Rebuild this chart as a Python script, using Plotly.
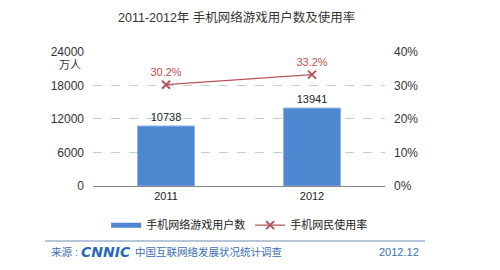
import plotly.graph_objects as go

years = ["2011", "2012"]
users = [10738, 13941]
rate = [0.302, 0.332]
rate_labels = ["30.2%", "33.2%"]
left_ticks = [0, 6000, 12000, 18000, 24000]
left_tick_text = ["0", "6000", "12000", "18000", "24000"]
right_ticks = [0, 0.1, 0.2, 0.3, 0.4]
right_tick_text = ["0%", "10%", "20%", "30%", "40%"]

FONT = "Liberation Sans, Noto Sans CJK SC, sans-serif"
BAR = "#4F86D0"
LINE = "#B5545C"

fig = go.Figure()
fig.add_trace(go.Bar(
    x=years, y=users, name="手机网络游戏用户数", showlegend=False,
    marker=dict(color=BAR, line=dict(color="#8FB4E3", width=1)),
    text=[str(v) for v in users], textposition="outside",
    textfont=dict(size=11, color="#222"), cliponaxis=False,
))
# legend-only entry drawn as a wide flat bar, like the reference
fig.add_trace(go.Scatter(
    x=[None], y=[None], name="手机网络游戏用户数", mode="lines",
    line=dict(color=BAR, width=5), showlegend=True,
))
fig.add_trace(go.Scatter(
    x=years, y=rate, name="手机网民使用率", yaxis="y2",
    mode="lines+markers+text",
    line=dict(color=LINE, width=1.3),
    marker=dict(symbol="x-thin", size=8, line=dict(color=LINE, width=2), color=LINE),
    text=rate_labels, textposition="top center",
    textfont=dict(size=11, color="#C0504D"), cliponaxis=False,
))

fig.update_layout(
    width=500, height=270,
    margin=dict(l=93, r=115, t=51, b=84),
    paper_bgcolor="white", plot_bgcolor="white",
    font=dict(family=FONT, size=12, color="#333"),
    bargap=0.61,
    showlegend=True,
    legend=dict(orientation="h", x=0.045, y=-0.29, xanchor="left", yanchor="middle",
                font=dict(size=11, color="#222"), bgcolor="rgba(0,0,0,0)",
                itemwidth=30, tracegroupgap=0),
    xaxis=dict(showgrid=False, showline=True, linecolor="#888", linewidth=1,
               ticks="outside", ticklen=0, tickfont=dict(size=11, color="#222")),
    yaxis=dict(range=[0, 24150], tickvals=left_ticks, ticktext=left_tick_text,
               showline=False,
               gridcolor="#B8D3D3", griddash="dash", gridwidth=1, zeroline=False,
               tickfont=dict(size=12, color="#333"), ticklabelstandoff=8),
    yaxis2=dict(range=[0, 0.4025], tickvals=right_ticks, ticktext=right_tick_text,
                overlaying="y", side="right", showgrid=False, zeroline=False,
                tickfont=dict(size=12, color="#333"), ticklabelstandoff=8),
)

fig.add_annotation(text="2011-2012年 手机网络游戏用户数及使用率", xref="paper", yref="paper",
                   x=(236 - 93) / 292, y=(186 - 17) / 135, showarrow=False,
                   font=dict(size=12.5, color="#333"), xanchor="center", yanchor="middle")
fig.add_annotation(text="万人", xref="paper", yref="paper",
                   x=-0.035, y=(186 - 65) / 135, showarrow=False,
                   font=dict(size=11, color="#333"), xanchor="right", yanchor="middle")
fig.add_shape(type="line", xref="paper", yref="paper",
              x0=(45 - 93) / 292, x1=(425 - 93) / 292,
              y0=(186 - 241) / 135, y1=(186 - 241) / 135,
              line=dict(color="#9DB3C8", width=1.5))
fig.add_annotation(text="来源 :", xref="paper", yref="paper",
                   x=(49 - 93) / 292, y=(186 - 252) / 135, showarrow=False,
                   font=dict(size=10.5, color="#3A6FB6"), xanchor="left", yanchor="middle")
fig.add_annotation(text="<b><i>CNNIC</i></b>", xref="paper", yref="paper",
                   x=(79 - 93) / 292, y=(186 - 252) / 135, showarrow=False,
                   font=dict(size=14, color="#2868B8", family="DejaVu Sans"),
                   xanchor="left", yanchor="middle")
fig.add_annotation(text="中国互联网络发展状况统计调查", xref="paper", yref="paper",
                   x=(133 - 93) / 292, y=(186 - 252) / 135, showarrow=False,
                   font=dict(size=10.5, color="#3A6FB6"), xanchor="left", yanchor="middle")
fig.add_annotation(text="2012.12", xref="paper", yref="paper",
                   x=(421 - 93) / 292, y=(186 - 252) / 135, showarrow=False,
                   font=dict(size=11, color="#3A6FB6"), xanchor="right", yanchor="middle")

fig.write_html("out.html")
